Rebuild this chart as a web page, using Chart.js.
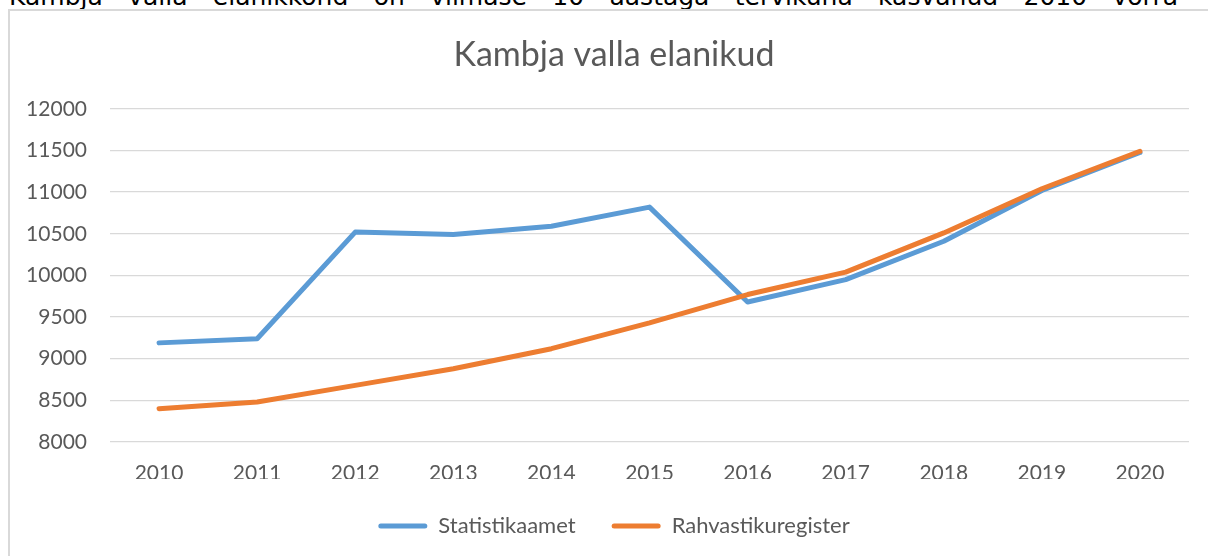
<!DOCTYPE html>
<html>
<head>
<meta charset="utf-8">
<script src="https://cdn.jsdelivr.net/npm/chart.js"></script>
<style>
  html, body { margin: 0; padding: 0; overflow: hidden; background: #fff; }
  #tekst {
    position: absolute; left: 9px; top: -18px; width: 1169px;
    font: 25px "DejaVu Sans", sans-serif; line-height: 30px; color: #000;
    text-align: justify; text-align-last: justify;
  }
  #kast {
    position: absolute; left: 8px; top: 9px; width: 1220px; height: 560px;
    border: 2px solid #d9d9d9;
  }
  #graafik { position: absolute; left: 0; top: 0; }
</style>
</head>
<body>
<div id="tekst">Kambja valla elanikkond on viimase 10 aastaga tervikuna kasvanud 2010 võrra</div>
<div id="kast"><canvas id="graafik" width="1208" height="545"></canvas></div>
<script>
// Andmed (loetud pildilt)
const aastad = ['2010', '2011', '2012', '2013', '2014', '2015', '2016', '2017', '2018', '2019', '2020'];
const statistikaamet = [9190, 9240, 10520, 10490, 10590, 10820, 9680, 9950, 10410, 11020, 11475];
const rahvastikuregister = [8400, 8480, 8680, 8880, 9120, 9430, 9770, 10040, 10510, 11040, 11490];

const font = 'Lato';
const hall = '#595959';

const ctx = document.getElementById('graafik').getContext('2d');
const graafik = new Chart(ctx, {
    type: 'line',
    data: {
        labels: aastad,
        datasets: [{
            label: 'Statistikaamet',
            data: statistikaamet,
            borderColor: '#5b9bd5',
            backgroundColor: '#5b9bd5',
            borderWidth: 5,
            pointRadius: 0,
            borderCapStyle: 'round',
            borderJoinStyle: 'round',
            tension: 0,
            order: 1
        }, {
            label: 'Rahvastikuregister',
            data: rahvastikuregister,
            borderColor: '#ed7d31',
            backgroundColor: '#ed7d31',
            borderWidth: 5,
            pointRadius: 0,
            borderCapStyle: 'round',
            borderJoinStyle: 'round',
            tension: 0,
            order: 0
        }]
    },
    options: {
        responsive: false,
        animation: false,
        layout: { padding: { left: 5, right: 5, top: 0, bottom: 9 } },
        plugins: {
            title: {
                display: true,
                text: 'Kambja valla elanikud',
                color: hall,
                font: { family: font, size: 34, weight: 'normal', lineHeight: 1.2 },
                padding: { top: 24, bottom: 33 }
            },
            legend: {
                position: 'bottom',
                labels: {
                    color: hall,
                    font: { family: font, size: 22 },
                    boxWidth: 49,
                    boxHeight: 5,
                    padding: 36,
                    useBorderRadius: true,
                    borderRadius: 2.5,
                    generateLabels(chart) {
                        const items = Chart.defaults.plugins.legend.labels.generateLabels(chart);
                        items.forEach(i => { i.fillStyle = i.strokeStyle; i.lineWidth = 0; });
                        return items.sort((a, b) => a.datasetIndex - b.datasetIndex);
                    }
                }
            },
            tooltip: { enabled: false }
        },
        scales: {
            x: {
                offset: true,
                grid: { display: false, drawTicks: false },
                border: { display: false },
                ticks: { color: hall, font: { family: font, size: 21 }, padding: 19, maxRotation: 0 },
                afterFit(scale) { scale.height = 37; }
            },
            y: {
                min: 8000,
                max: 12000,
                grid: { color: '#d9d9d9', lineWidth: 1.3, drawTicks: false },
                border: { display: false },
                ticks: { stepSize: 500, color: hall, font: { family: font, size: 21 }, padding: 23, callback: v => String(v) },
                afterFit(scale) { scale.width = 95; }
            },
            // tühi parem telg, et pealkiri ja legend jääksid keskele nagu originaalis
            y2: {
                position: 'right',
                grid: { display: false },
                border: { display: false },
                ticks: { display: false },
                afterFit(scale) { scale.width = 24; }
            }
        }
    }
});
</script>
</body>
</html>
